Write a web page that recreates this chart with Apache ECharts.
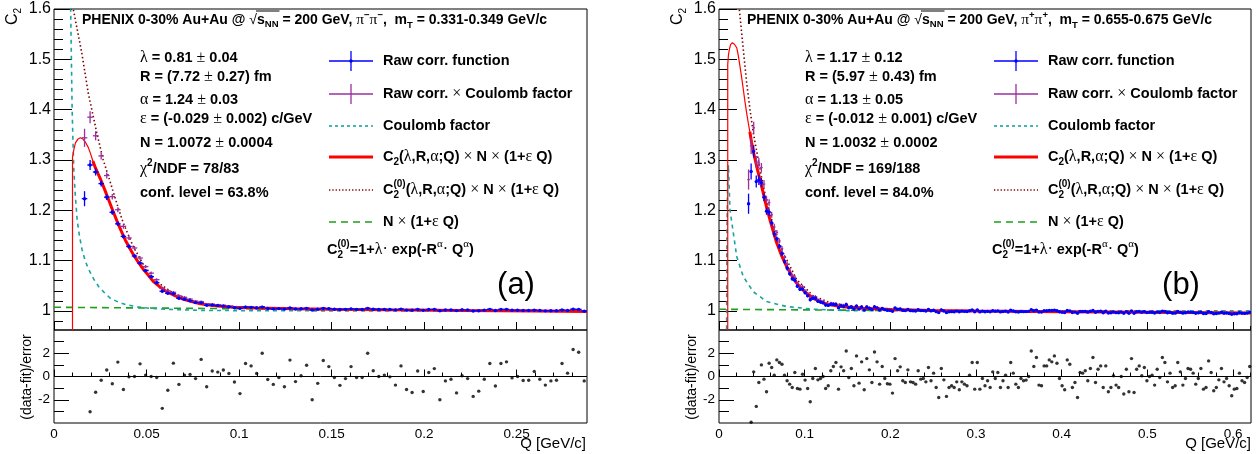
<!DOCTYPE html>
<html><head><meta charset="utf-8">
<script src="https://cdn.jsdelivr.net/npm/echarts@6/dist/echarts.min.js"></script>
<style>html,body{margin:0;padding:0;background:#fff}#c{width:1256px;height:454px}</style>
</head><body><div id="c"></div>
<script>
// ---------------- DATA ----------------
const binWidth = 0.003;
const qMaxA = 0.288, qMaxB = 0.621;
// panel (a): pi- pi-, mT 0.331-0.349
const rawStartA = 0.0165;           // first bin centre of the raw correlation function
const rawA = [1.223,1.290,1.276,1.253,1.226,1.196,1.173,1.148,1.128,1.109,
 1.095,1.080,1.068,1.056,1.039,1.035,1.034,1.025,1.023,1.020,
 1.0165,1.016,1.011,1.0115,1.0105,1.0095,1.008,1.0065,1.005,1.0075,
 1.007,1.0058,1.0075,1.0048,1.004,1.0045,1.0035,1.0058,1.0037,1.0041,
 1.005,1.0018,1.0031,1.005,1.0044,1.0033,1.0026,1.003,1.004,1.003,
 1.0029,1.005,1.0033,1.0028,1.0029,1.0027,1.002,1.0035,1.0015,1.0012,
 1.0028,1.0011,1.0026,1.0029,1.0003,1.0018,1.0019,1.0006,1.0021,1.0018,
 0.9999,1.0004,1.0015,1.003,1.0008,1.0028,1.0029,1.0013,1.0013,1.0009,
 1.0009,1.0015,1.0007,1.0001,1.0004,1.0004,1.0018,1.0009,1.0031,1.0028,
 0.9995];
const errA = [0.015,0.010,0.007,0.006,0.0055,0.005,0.0045,0.004,0.004,0.0035,
 0.0035,0.003,0.003,0.003,0.0028,0.0026,0.0025,0.0024,0.0023,0.0022,
 0.002,0.002,0.002,0.002,0.002,0.002,0.002,0.002,0.002,0.002,
 0.0018,0.0018,0.0018,0.0018,0.0018,0.0018,0.0018,0.0018,0.0018,0.0018,
 0.0018,0.0018,0.0018,0.0018,0.0018,0.0018,0.0018,0.0018,0.0018,0.0018,
 0.0016,0.0016,0.0016,0.0016,0.0016,0.0016,0.0016,0.0016,0.0016,0.0016,
 0.0016,0.0016,0.0016,0.0016,0.0016,0.0016,0.0016,0.0016,0.0016,0.0016,
 0.0015,0.0015,0.0015,0.0015,0.0015,0.0015,0.0015,0.0015,0.0015,0.0015,
 0.0015,0.0015,0.0015,0.0015,0.0015,0.0015,0.0015,0.0015,0.0015,0.0015,
 0.0015];
const corrA = [1.344,1.385,1.348,1.308,1.269,1.227,1.201,1.168,1.145,1.125,
 1.105,1.088,1.075,1.062,1.045,1.040,1.037,1.030,1.027,1.0235,
 1.0195,1.0185,1.013,1.0135,1.012,1.011,1.0095,1.0078,1.0062,1.0085,
 1.008,1.0067,1.0083,1.0056,1.0047,1.0052,1.0041,1.0064,1.0043,1.0046,
 1.0055,1.0023,1.0036,1.0054,1.0048,1.0037,1.003,1.0034,1.0043,1.0033,
 1.0032,1.0053,1.0036,1.0031,1.0032,1.003,1.0023,1.0038,1.0018,1.0015,
 1.003,1.0013,1.0028,1.0031,1.0005,1.002,1.0021,1.0008,1.0023,1.002,
 1.0001,1.0006,1.0017,1.0032,1.001,1.003,1.0031,1.0015,1.0015,1.0011,
 1.0011,1.0017,1.0009,1.0003,1.0006,1.0006,1.002,1.0011,1.0033,1.003,
 0.9997];
const errCorrA = [0.018,0.012,0.009,0.007,0.006,0.0055,0.005,0.0045,0.0042,0.004,
 0.0038,0.0033,0.0032,0.0031,0.003,0.0028,0.0026,0.0025,0.0024,0.0023].concat(errA.slice(20));
const resStartA = 0.0195;
const resA = [-3.03,-1.35,-0.32,0.56,-0.62,1.24,-1.12,-0.03,0,1.09,
 0.12,0,-0.09,-2.74,-1.18,1.15,-0.68,0.12,0.18,-0.18,
 1.47,-0.88,0.47,0.38,0.56,0.26,-0.47,-1.47,1.12,0.91,
 0.26,2.0,-0.26,-0.68,-0.09,-0.88,1.41,-0.44,0.06,0.97,
 -2.0,-0.59,1.38,0.85,-0.09,-0.76,-0.18,0.85,-0.09,-0.09,
 2.0,0.5,0,0.12,-0.03,-0.74,0.91,-1.12,-1.38,0.47,
 -1.29,0.35,0.68,-2.0,-0.38,-0.24,-1.41,0.06,-0.18,-1.71,
 -1.26,-0.24,1.12,-0.82,1.12,1.26,-0.12,0,-0.35,-0.32,
 0.44,-0.24,-0.74,-0.38,-0.32,1.12,0.29,2.32,2.09,-0.38];
// fit curves (a)
const fitThinQA = [0.01,0.01,0.0108,0.0116,0.0128,0.0143,0.0158,0.017,0.0185,0.0197,0.021];
const fitThinCA = [0.9,1.305,1.322,1.334,1.341,1.344,1.341,1.335,1.325,1.313,1.298];
const fitQA = [0.021,0.0225,0.0251,0.0275,0.0295,0.0318,0.0341,0.0363,0.0385,0.041,0.043,0.0457,0.0484,0.0511,0.0538,0.057,0.061,0.065,0.07,0.075,0.079,0.085,0.09,0.097,0.11,0.13,0.15,0.18,0.22,0.26,0.288];
const fitCA = [1.298,1.283,1.262,1.240,1.221,1.199,1.178,1.159,1.141,1.124,1.111,1.096,1.082,1.070,1.058,1.048,1.038,1.031,1.023,1.018,1.014,1.011,1.009,1.007,1.0055,1.0042,1.0032,1.002,1.0008,0.9998,0.9989];
const c0QA = [0.0095,0.0104,0.015,0.0185,0.0231,0.0266,0.0303,0.0339,0.0374,0.0428,0.0483,0.0555,0.0645,0.0789,0.1,0.13,0.17,0.22,0.288];
const c0CA = [1.63,1.6,1.513,1.433,1.354,1.300,1.257,1.214,1.175,1.128,1.092,1.058,1.035,1.015,1.008,1.0045,1.0025,1.001,0.999];
const coulQA = [0.0088,0.0094,0.0098,0.0103,0.0107,0.0115,0.0125,0.0138,0.0152,0.017,0.0188,0.0215,0.0242,0.0275,0.0305,0.035,0.0394,0.045,0.052,0.065,0.08,0.1,0.15,0.288];
const coulCA = [1.65,1.5,1.4,1.33,1.28,1.23,1.181,1.148,1.121,1.098,1.082,1.063,1.048,1.035,1.025,1.017,1.012,1.008,1.005,1.0025,1.001,1.0005,1.0,1.0];
const normQA = [0, 0.288];
const normCA = [1.0072, 0.9988];

// panel (b): pi+ pi+, mT 0.655-0.675
const rawStartB = 0.0345;
const rawB = [1.213,1.277,1.317,1.257,1.260,1.255,1.226,1.198,1.196,1.175,
 1.153,1.143,1.128,1.114,1.098,1.085,1.074,1.064,1.061,1.049,
 1.043,1.043,1.036,1.030,1.022,1.025,1.025,1.019,1.0175,1.016,
 1.0116,1.0109,1.0131,1.0129,1.0127,1.0062,1.0103,1.0088,1.0125,1.0063,
 1.0077,1.0037,1.0094,1.0035,1.0076,1.0016,1.0077,1.0052,1.0025,1.008,
 1.006,1.0016,1.0048,1.0024,1.0012,1.001,0.9993,1.0056,1.0032,1.0038,
 1.001,1.0006,1.0028,1.0005,1.0003,0.9999,1.0023,1.0006,1.0006,0.9999,
 1.0026,1.0,1.0013,0.9985,0.9966,1.002,0.9999,0.9966,0.9983,0.9985,
 0.9983,0.9996,0.9984,0.9995,0.999,0.9988,1.0002,1.0019,0.9982,1.0018,
 0.998,0.9995,0.9984,0.9991,0.9981,1.0002,0.9992,1.0,0.998,0.9988,
 0.9996,0.9979,1.0012,0.9998,0.9982,0.9977,0.9989,0.9985,0.9986,0.9991,
 1.0025,1.0004,1.0016,0.9977,0.9976,1.0003,1.0003,1.0011,1.0007,1.0015,
 1.0004,0.9983,0.9973,0.9967,1.0008,1.0001,0.9969,0.9976,0.9954,0.9988,
 0.9987,0.999,0.9975,0.9992,1.0007,0.9972,0.999,0.9995,0.9964,0.9994,
 0.9957,0.9963,0.9979,0.9965,0.9962,0.9976,0.9952,0.9986,0.9954,1.0,
 0.9952,0.9984,0.9989,0.9974,0.9985,0.9966,0.9972,0.9974,0.9959,0.9981,
 0.9969,0.9996,0.9989,0.9962,0.9974,0.9953,0.9955,0.9987,0.9973,0.9955,
 0.9963,0.9977,0.9976,0.997,0.9954,0.9961,0.9975,0.9947,0.9948,0.9984,
 0.9967,0.9942,0.9947,0.9956,0.9972,0.9953,0.9957,0.9947,0.9932,0.9942,
 0.9943,0.9963,0.9952,0.995,0.9956,0.9971];
const corrB = [1.261,1.328,1.364,1.296,1.294,1.285,1.252,1.221,1.215,1.191,
 1.167,1.156,1.139,1.124,1.107,1.093,1.081,1.070,1.067,1.054,
 1.048,1.048,1.040,1.034,1.026,1.0286,1.0284,1.0222,1.0205,1.0188,
 1.0142,1.0133,1.0154,1.0151,1.0148,1.0082,1.0122,1.0106,1.0142,1.0079,
 1.0092,1.0051,1.0107,1.0047,1.0088,1.0027,1.0087,1.0062,1.0034,1.0089,
 1.0068,1.0020,1.0052,1.0028,1.0016,1.0014,0.9997,1.0060,1.0036,1.0042,
 1.0014,1.0010,1.0032,1.0009,1.0007,1.0003,1.0027,1.0010,1.0010,1.0003,
 1.0030,1.0004,1.0017,0.9989,0.9970,1.0024,1.0003,0.9970,0.9987,0.9989,
 0.9987,0.9998,0.9986,0.9997,0.9992,0.9990,1.0004,1.0021,0.9984,1.0020,
 0.9982,0.9997,0.9986,0.9993,0.9983,1.0004,0.9994,1.0002,0.9982,0.9990,
 0.9998,0.9981,1.0014,1.0000,0.9984,0.9979,0.9991,0.9987,0.9988,0.9993,
 1.0027,1.0006,1.0018,0.9979,0.9978,1.0005,1.0005,1.0013,1.0009,1.0017,
 1.0006,0.9985,0.9975,0.9969,1.0010,1.0003,0.9971,0.9978,0.9956,0.9990,
 0.9989,0.9992,0.9977,0.9994,1.0009,0.9974,0.9992,0.9997,0.9966,0.9996,
 0.9959,0.9965,0.9981,0.9967,0.9964,0.9978,0.9954,0.9988,0.9956,1.0002,
 0.9954,0.9986,0.9991,0.9976,0.9987,0.9968,0.9974,0.9976,0.9961,0.9983,
 0.9971,0.9998,0.9991,0.9964,0.9976,0.9955,0.9957,0.9989,0.9975,0.9957,
 0.9965,0.9979,0.9978,0.9972,0.9956,0.9963,0.9977,0.9949,0.9950,0.9986,
 0.9969,0.9944,0.9949,0.9958,0.9974,0.9955,0.9959,0.9949,0.9934,0.9944,
 0.9945,0.9965,0.9954,0.9952,0.9958,0.9973];
const errB = [0.02,0.016,0.012,0.012,0.01,0.009,0.008,0.007,0.007,0.006,
 0.006,0.005,0.005,0.005,0.0045,0.0045,0.004,0.004,0.004,0.0035,
 0.0035,0.0035,0.003,0.003,0.003,0.003,0.003,0.003,0.0028,0.0028,
 0.0028,0.0026,0.0026,0.0026,0.0025,0.0025,0.0025,0.0025,0.0025,0.0025,
 0.0024,0.0024,0.0024,0.0024,0.0024,0.0024,0.0024,0.0024,0.0024,0.0024,
 0.0022,0.0022,0.0022,0.0022,0.0022,0.0022,0.0022,0.0022,0.0022,0.0022,
 0.0022,0.0022,0.0022,0.0022,0.0022,0.0022,0.0022,0.0022,0.0022,0.0022,
 0.0022,0.0022,0.0022,0.0022,0.0022,0.0022,0.0022,0.0022,0.0022,0.0022,
 0.0016,0.0016,0.0016,0.0016,0.0016,0.0016,0.0016,0.0016,0.0016,0.0016,
 0.0016,0.0016,0.0016,0.0016,0.0016,0.0016,0.0016,0.0016,0.0016,0.0016,
 0.0016,0.0016,0.0016,0.0016,0.0016,0.0016,0.0016,0.0016,0.0016,0.0016,
 0.0016,0.0016,0.0016,0.0016,0.0016,0.0016,0.0016,0.0016,0.0016,0.0016,
 0.0016,0.0016,0.0016,0.0016,0.0016,0.0016,0.0016,0.0016,0.0016,0.0016,
 0.0016,0.0016,0.0016,0.0016,0.0016,0.0016,0.0016,0.0016,0.0016,0.0016,
 0.0016,0.0016,0.0016,0.0016,0.0016,0.0016,0.0016,0.0016,0.0016,0.0016,
 0.0016,0.0016,0.0016,0.0016,0.0016,0.0016,0.0016,0.0016,0.0016,0.0016,
 0.0016,0.0016,0.0016,0.0016,0.0016,0.0016,0.0016,0.0016,0.0016,0.0016,
 0.0016,0.0016,0.0016,0.0016,0.0016,0.0016,0.0016,0.0016,0.0016,0.0016,
 0.0016,0.0016,0.0016,0.0016,0.0016,0.0016,0.0016,0.0016,0.0016,0.0016,
 0.0016,0.0016,0.0016,0.0016,0.0016,0.0016];
const resStartB = 0.0375;
const resB = [-3.94,0.4,-2.57,-0.51,1.0,-0.23,-1.31,1.14,0.77,0.11,
 1.43,1.2,1.06,0.11,-0.37,-0.66,-0.94,0.34,-1.03,-1.09,
 0.2,-0.31,-1.03,-2.17,-0.17,0.69,-0.29,-0.17,0,-1.03,
 -0.8,0.49,0.86,1.2,-1.09,0.83,0.49,2.2,-0.09,0.69,
 -0.8,1.77,-0.57,1.26,-1.14,1.54,0.57,-0.51,2.11,1.26,
 -0.66,0.86,-0.17,-0.63,-0.66,-1.43,1.54,0.49,0.83,-0.37,
 -0.51,0.57,-0.46,-0.51,-0.66,0.49,-0.23,-0.17,-0.46,0.77,
 -0.37,0.29,-0.94,-1.8,0.69,-0.29,-1.71,-0.94,-0.8,-0.94,
 -0.46,-1.14,-0.46,-0.66,-0.8,0.11,1.2,-1.09,1.2,-1.09,
 -0.17,-0.8,-0.37,-0.94,0.4,-0.17,0.34,-0.94,-0.37,0.11,
 -0.94,1.2,0.29,-0.66,-0.94,-0.17,-0.37,-0.31,0,2.2,
 0.86,1.63,-0.74,-0.8,0.91,0.91,1.43,1.26,1.77,1.14,
 -0.17,-0.8,-1.14,1.43,1.06,-0.94,-0.51,-1.8,0.34,0.29,
 0.49,-0.37,0.69,1.63,-0.51,0.63,0.91,-0.94,0.91,-1.31,
 -0.94,0.06,-0.74,-0.94,0,-1.51,0.63,-1.31,1.54,-1.37,
 0.63,0.91,0.06,0.77,-0.37,0,0.11,-0.74,0.63,-0.09,
 1.63,1.2,-0.46,0.29,-0.94,-0.8,1.2,0.4,-0.74,-0.17,
 0.69,0.63,0.29,-0.66,-0.17,0.69,-1.09,-0.94,1.34,0.34,
 -1.23,-0.94,-0.29,0.69,-0.46,-0.17,-0.8,-1.66,-1.09,-1.03,
 0.29,-0.37,-0.51,-0.09,0.86];
const fitThinQB = [0.0102,0.0102,0.011,0.012,0.0135,0.0155,0.018,0.0207,0.0225,0.0245,0.0265,0.0284,0.0303,0.0323,0.0342,0.0362,0.038];
const fitThinCB = [0.9,1.49,1.508,1.519,1.529,1.533,1.530,1.523,1.508,1.486,1.463,1.44,1.416,1.393,1.373,1.354,1.335];
const fitQB = [0.036,0.038,0.04,0.045,0.0517,0.0555,0.0595,0.0635,0.0674,0.073,0.079,0.085,0.0907,0.1,0.11,0.12,0.1296,0.145,0.168,0.2,0.25,0.3,0.4,0.5,0.621];
const fitCB = [1.356,1.335,1.317,1.28,1.234,1.206,1.181,1.157,1.135,1.11,1.088,1.07,1.055,1.038,1.025,1.017,1.012,1.008,1.005,1.0025,1.0006,0.9997,0.9984,0.9972,0.9957];
const c0QB = [0.0102,0.015,0.02,0.0237,0.0284,0.0323,0.0362,0.04,0.0459,0.0517,0.0634,0.0751,0.0907,0.11,0.13,0.17,0.25,0.35,0.621];
const c0CB = [1.9,1.78,1.66,1.6,1.519,1.453,1.4,1.354,1.3,1.247,1.168,1.115,1.062,1.03,1.016,1.006,1.001,0.999,0.9957];
const coulQB = [0.0088,0.0092,0.0100,0.0110,0.0118,0.0128,0.0167,0.0207,0.0284,0.04,0.0557,0.079,0.110,0.149,0.25,0.621];
const coulCB = [0.9,1.15,1.25,1.29,1.25,1.201,1.155,1.108,1.068,1.038,1.0185,1.0086,1.0034,1.0006,1.0,1.0];
const normQB = [0, 0.621];
const normCB = [1.0032, 0.9957];

// axis ticks / labels
const xMajorA = [0,0.05,0.1,0.15,0.2,0.25];
const xMajorB = [0,0.1,0.2,0.3,0.4,0.5,0.6];
const yMajorMain = [1,1.1,1.2,1.3,1.4,1.5,1.6];
const yMajorRes = [-2,0,2];
const yMinorRes = [-3,-1,1,3];

// ---------------- BUILD ----------------
const FS = '"Liberation Sans", Arial, Helvetica, sans-serif';
const FG = '"Liberation Serif", "Times New Roman", serif';
function steps(a, b, s){ const o=[]; for(let k=0;;k++){ const v=+(a+k*s).toFixed(6); if(v>b+1e-9)break; o.push(v);} return o; }
const xMinorA = steps(0, qMaxA, 0.01);
const xMinorB = steps(0, qMaxB, 0.02);
const yMinorMain = steps(0.98, 1.6, 0.02);

const zip = (q,c)=>q.map((v,i)=>[v,c[i]]);
const hist = (start, vals, errs)=>vals.map((v,i)=>[+(start+i*binWidth).toFixed(5), v, errs?errs[i]:0]);

const GRID = [
  {left:54, top:9, width:533, height:321},
  {left:54, top:330, width:533, height:93},
  {left:719, top:9, width:532, height:321},
  {left:719, top:330, width:532, height:93}
];
const grid = GRID.map(g=>Object.assign({show:true, borderColor:'#000', borderWidth:1, backgroundColor:'transparent', outerBoundsMode:'none', containLabel:false}, g));

function axis(gi, min, max, ticks, len, labels, lab, pos){
  return {type:'value', gridIndex:gi, min, max, position:pos, offset:0, scale:false,
    axisLine:{show:false}, splitLine:{show:false}, minorTick:{show:false},
    axisTick:{show:true, inside:true, length:len, customValues:ticks, lineStyle:{color:'#000', width:1}},
    axisLabel: labels ? Object.assign({show:true, customValues:labels, color:'#000', fontFamily:FS, hideOverlap:false}, lab) : {show:false}
  };
}
const xAxis = [
  axis(0,0,qMaxA,xMajorA,8,null,null,'bottom'),
  axis(0,0,qMaxA,xMinorA,4,null,null,'bottom'),
  axis(1,0,qMaxA,xMajorA,7,xMajorA,{fontSize:13.5, margin:4},'bottom'),
  axis(1,0,qMaxA,xMinorA,4,null,null,'bottom'),
  axis(2,0,qMaxB,xMajorB,8,null,null,'bottom'),
  axis(2,0,qMaxB,xMinorB,4,null,null,'bottom'),
  axis(3,0,qMaxB,xMajorB,7,xMajorB,{fontSize:13.5, margin:4},'bottom'),
  axis(3,0,qMaxB,xMinorB,4,null,null,'bottom')
];
const yAxis = [
  axis(0,0.962,1.6,yMajorMain,18,yMajorMain,{fontSize:16, margin:3},'left'),
  axis(0,0.962,1.6,yMinorMain,9,null,null,'left'),
  axis(1,-4,4,yMajorRes,15,yMajorRes,{fontSize:13.5, margin:4},'left'),
  axis(1,-4,4,yMinorRes,10,null,null,'left'),
  axis(2,0.962,1.6,yMajorMain,18,yMajorMain,{fontSize:16, margin:3},'left'),
  axis(2,0.962,1.6,yMinorMain,9,null,null,'left'),
  axis(3,-4,4,yMajorRes,15,yMajorRes,{fontSize:13.5, margin:4},'left'),
  axis(3,-4,4,yMinorRes,10,null,null,'left')
];

const COL = {blue:'#0000ff', purple:'#9a2fa0', cyan:'#1aa3a3', red:'#ff0000', dark:'#800000', green:'#1f9f1f'};

function crossRender(color, dot, lw){
  return function(params, api){
    const q=api.value(0), v=api.value(1), e=api.value(2);
    const p=api.coord([q,v]);
    const l=api.coord([q-binWidth/2,v]), r=api.coord([q+binWidth/2,v]);
    const t=api.coord([q,v+e]), b=api.coord([q,v-e]);
    const ch=[
      {type:'line', shape:{x1:l[0],y1:p[1],x2:r[0],y2:p[1]}, style:{stroke:color, lineWidth:lw}},
      {type:'line', shape:{x1:p[0],y1:t[1],x2:p[0],y2:b[1]}, style:{stroke:color, lineWidth:lw}}
    ];
    if(dot) ch.push({type:'circle', shape:{cx:p[0],cy:p[1],r:1.7}, style:{fill:color}});
    return {type:'group', children:ch};
  };
}
function lineS(xi, yi, data, color, width, type, z){
  return {type:'line', xAxisIndex:xi, yAxisIndex:yi, data, showSymbol:false, symbol:'none', clip:true, z:z||2,
    lineStyle:{color, width, type:type||'solid'}, animation:false, silent:true};
}
function panelSeries(xi, yi, rxi, ryi, d){
  return [
    lineS(xi,yi,zip(d.normQ,d.normC),COL.green,1.6,[7,5]),
    lineS(xi,yi,zip(d.coulQ,d.coulC),COL.cyan,1.6,[4,4]),
    lineS(xi,yi,zip(d.c0Q,d.c0C),COL.dark,1.6,[1.5,2.5]),
    lineS(xi,yi,zip(d.thinQ,d.thinC),COL.red,1.2,'solid'),
    lineS(xi,yi,zip(d.fitQ,d.fitC),COL.red,3,'solid',3),
    {type:'custom', xAxisIndex:xi, yAxisIndex:yi, data:hist(d.rawStart,d.corr,d.errCorr), encode:{x:0,y:1},
      renderItem:crossRender(COL.purple,false,1.3), clip:true, z:4, animation:false, silent:true},
    {type:'custom', xAxisIndex:xi, yAxisIndex:yi, data:hist(d.rawStart,d.raw,d.err), encode:{x:0,y:1},
      renderItem:crossRender(COL.blue,true,1.3), clip:true, z:5, animation:false, silent:true},
    {type:'scatter', xAxisIndex:rxi, yAxisIndex:ryi, data:hist(d.resStart,d.res).map(p=>[p[0],p[1]]),
      symbol:'circle', symbolSize:3.4, itemStyle:{color:'#000'}, clip:true, animation:false, silent:true,
      markLine:{silent:true, symbol:['none','none'], animation:false, label:{show:false},
        lineStyle:{color:'#000', width:1, type:'solid'}, data:[{yAxis:0}]}}
  ];
}
const series = [].concat(
  panelSeries(0,0,2,2,{normQ:normQA,normC:normCA,coulQ:coulQA,coulC:coulCA,c0Q:c0QA,c0C:c0CA,thinQ:fitThinQA,thinC:fitThinCA,fitQ:fitQA,fitC:fitCA,
    rawStart:rawStartA,raw:rawA,err:errA,corr:corrA,errCorr:errCorrA,resStart:resStartA,res:resA}),
  panelSeries(4,4,6,6,{normQ:normQB,normC:normCB,coulQ:coulQB,coulC:coulCB,c0Q:c0QB,c0C:c0CB,thinQ:fitThinQB,thinC:fitThinCB,fitQ:fitQB,fitC:fitCB,
    rawStart:rawStartB,raw:rawB,err:errB,corr:corrB,errCorr:errB,resStart:resStartB,res:resB})
);

// ---------------- TEXT / LEGEND ----------------
const ctx = document.createElement('canvas').getContext('2d');
const fonts = {
  t:'bold 14px '+FS, ts:'bold 9.5px '+FS, tg:'15.5px '+FG, tr:'14px '+FS,
  b:'bold 14.5px '+FS, bs:'bold 10px '+FS, g:'16px '+FG, gs:'11px '+FG
};
function txt(x,y,t,font,align,rot){
  return {type:'text', x, y, rotation:rot||0, silent:true, z:20,
    style:{text:t, font, fill:'#000', textAlign:align||'left', textVerticalAlign:'middle', align:align||'left', verticalAlign:'middle'}};
}
function runs(x, y, list){
  let cx=x; const els=[], pos=[];
  for(const r of list){
    const t=r[0], k=r[1], dy=r[2]||0, adv=r[3]!==false;
    pos.push(cx);
    els.push(txt(cx, y+dy, t, fonts[k]));
    ctx.font=fonts[k];
    const w=ctx.measureText(t).width;
    if(adv) cx+=w;
    pos.push(cx);
  }
  return {els, pos, end:cx};
}
const gfx = [];
function panelText(ox, P){
  // title
  const T = runs(82+ox, 20, [
    ['PHENIX 0-30% Au+Au @ ','t'], ['\u221A','tr'], ['s','t'], ['NN','ts',4], [' = 200 GeV, ','t'],
    ['\u03C0','tg'], [P.ch,'ts',-5], ['\u03C0','tg'], [P.ch,'ts',-5], [',  m','t'], ['T','ts',5], [' = '+P.mt+' GeV/c','t']
  ]);
  gfx.push(...T.els);
  gfx.push({type:'line', silent:true, z:20, shape:{x1:T.pos[3]-1, y1:11, x2:T.pos[7]+1, y2:11}, style:{stroke:'#000', lineWidth:1}});
  // fit parameters
  const px=140+ox;
  const rows = [
    [58, [['\u03BB','g'],[' = '+P.lam[0]+' ','b'],['\u00B1','g'],[' '+P.lam[1],'b']]],
    [77, [['R = ('+P.R[0]+' ','b'],['\u00B1','g'],[' '+P.R[1]+') fm','b']]],
    [100,[['\u03B1','g'],[' = '+P.al[0]+' ','b'],['\u00B1','g'],[' '+P.al[1],'b']]],
    [119,[['\u03B5','g'],[' = ('+P.ep[0]+' ','b'],['\u00B1','g'],[' '+P.ep[1]+') c/GeV','b']]],
    [143,[['N = '+P.N[0]+' ','b'],['\u00B1','g'],[' '+P.N[1],'b']]],
    [169,[['\u03C7','g'],['2','bs',-6],['/NDF = '+P.chi,'b']]],
    [193,[['conf. level = '+P.cl,'b']]]
  ];
  rows.forEach(r=>gfx.push(...runs(px, r[0], r[1]).els));
  // legend
  const lx0=329+ox, lx1=373+ox, lm=(lx0+lx1)/2, tx=383+ox;
  const L = (x1,y,x2,y2,c,w,dash)=>({type:'line', silent:true, z:20, shape:{x1,y1:y,x2,y2}, style:{stroke:c, lineWidth:w, lineDash:dash||null}});
  gfx.push(L(lx0,61,lx1,61,COL.blue,1.3), L(lm,51,lm,71,COL.blue,1.3), {type:'circle', silent:true, z:20, shape:{cx:lm,cy:61,r:1.7}, style:{fill:COL.blue}});
  gfx.push(L(lx0,94,lx1,94,COL.purple,1.3), L(lm,84,lm,104,COL.purple,1.3));
  gfx.push(L(lx0,126,lx1,126,COL.cyan,1.6,[3,3]));
  gfx.push(L(lx0,157,lx1,157,COL.red,3));
  gfx.push(L(lx0,190,lx1,190,COL.dark,1.4,[1.3,2]));
  gfx.push(L(lx0,222,lx1,222,COL.green,1.6,[7,5]));
  const leg = [
    [61, [['Raw corr. function','b']]],
    [94, [['Raw corr. ','b'],['\u00D7','g'],[' Coulomb factor','b']]],
    [126,[['Coulomb factor','b']]],
    [157,[['C','b'],['2','bs',5],['(','b'],['\u03BB','g'],[',R,','b'],['\u03B1','g'],[';Q) ','b'],['\u00D7','g'],[' N ','b'],['\u00D7','g'],[' (1+','b'],['\u03B5','g'],[' Q)','b']]],
    [190,[['C','b'],['2','bs',5,false],['(0)','bs',-6],['(','b'],['\u03BB','g'],[',R,','b'],['\u03B1','g'],[';Q) ','b'],['\u00D7','g'],[' N ','b'],['\u00D7','g'],[' (1+','b'],['\u03B5','g'],[' Q)','b']]],
    [222,[['N ','b'],['\u00D7','g'],[' (1+','b'],['\u03B5','g'],[' Q)','b']]]
  ];
  leg.forEach(r=>gfx.push(...runs(tx, r[0], r[1]).els));
  gfx.push(...runs(327+ox, 250, [['C','b'],['2','bs',5,false],['(0)','bs',-6],['=1+','b'],['\u03BB','g'],['\u00B7','g'],[' exp(-R','b'],['\u03B1','gs',-6],['\u00B7','g'],[' Q','b'],['\u03B1','gs',-6],[')','b']]).els);
  // panel letter
  gfx.push(txt(516+ox, 285, P.letter, '31px '+FS, 'center'));
  // axis titles
  gfx.push(txt(586+ox, 444, 'Q [GeV/c]', '15px '+FS, 'right'));
  gfx.push(txt(27+ox, 377, '(data-fit)/error', '14px '+FS, 'center', Math.PI/2));
  ctx.font = '16px '+FS; const cw = ctx.measureText('C').width;
  gfx.push({type:'group', x:13+ox, y:25, rotation:Math.PI/2, silent:true, z:20, children:[
    {type:'text', x:0, y:0, style:{text:'C', font:'16px '+FS, fill:'#000', textAlign:'left', textVerticalAlign:'middle', align:'left', verticalAlign:'middle'}},
    {type:'text', x:cw, y:5, style:{text:'2', font:'10px '+FS, fill:'#000', textAlign:'left', textVerticalAlign:'middle', align:'left', verticalAlign:'middle'}}
  ]});
}
panelText(0, {ch:'\u2212', mt:'0.331-0.349', lam:['0.81','0.04'], R:['7.72','0.27'], al:['1.24','0.03'], ep:['-0.029','0.002'], N:['1.0072','0.0004'], chi:'78/83', cl:'63.8%', letter:'(a)'});
panelText(665, {ch:'+', mt:'0.655-0.675', lam:['1.17','0.12'], R:['5.97','0.43'], al:['1.13','0.05'], ep:['-0.012','0.001'], N:['1.0032','0.0002'], chi:'169/188', cl:'84.0%', letter:'(b)'});

const chart = echarts.init(document.getElementById('c'), null, {renderer:'canvas', width:1256, height:454});
chart.setOption({
  animation:false, backgroundColor:'#ffffff',
  textStyle:{fontFamily:FS},
  grid, xAxis, yAxis, series,
  graphic:{elements:gfx}
});
</script>
</body></html>
